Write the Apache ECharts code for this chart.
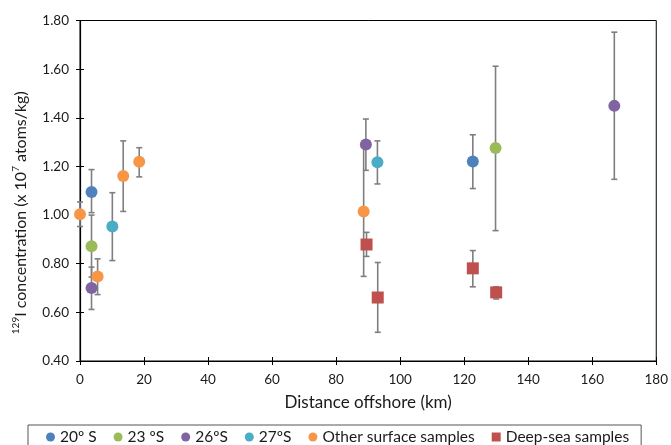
<!DOCTYPE html>
<html>
<head>
<meta charset="utf-8">
<script src="https://cdn.jsdelivr.net/npm/echarts@6/dist/echarts.min.js"></script>
<style>
html,body{margin:0;padding:0;background:#fff;}
#c{width:671px;height:445px;}
</style>
</head>
<body>
<div id="c"></div>
<script>
// Each point: [distance km, value, error low, error high]
const pts20S = [[3.6, 1.095, 1.01, 1.187], [122.7, 1.22, 1.109, 1.33]];
const pts23S = [[3.6, 0.872, 0.745, 1.00], [129.8, 1.276, 0.936, 1.612]];
const pts26S = [[3.6, 0.70, 0.612, 0.786], [89.3, 1.29, 1.184, 1.395], [166.9, 1.449, 1.147, 1.752]];
const pts27S = [[10.1, 0.953, 0.813, 1.092], [92.9, 1.217, 1.128, 1.305]];
const ptsOther = [[0, 1.003, 0.953, 1.054], [5.5, 0.747, 0.673, 0.82], [13.5, 1.161, 1.015, 1.305], [18.5, 1.219, 1.157, 1.277], [88.6, 1.015, 0.748, 1.28]];
const ptsDeep = [[89.5, 0.879, 0.83, 0.929], [93.0, 0.661, 0.518, 0.805], [122.7, 0.781, 0.705, 0.854], [130.0, 0.682, 0.655, 0.705]];

const seriesNames = ['20º S', '23 ºS', '26ºS', '27ºS', 'Other surface samples', 'Deep-sea samples'];
const seriesPts = [pts20S, pts23S, pts26S, pts27S, ptsOther, ptsDeep];
const seriesColors = ['#4F81BD', '#9BBB59', '#8064A2', '#4BACC6', '#F79646', '#C0504D'];
const seriesSymbols = ['circle', 'circle', 'circle', 'circle', 'circle', 'rect'];

const xTicks = [0, 20, 40, 60, 80, 100, 120, 140, 160, 180];
const yTicks = [0.4, 0.6, 0.8, 1.0, 1.2, 1.4, 1.6, 1.8];

const FONT = 'Lato, "Open Sans", sans-serif';
const TXT = '#1a1a1a';

const chart = echarts.init(document.getElementById('c'));

function errorRender(params, api) {
  const x = api.value(0);
  const lo = api.coord([x, api.value(2)]);
  const hi = api.coord([x, api.value(3)]);
  const cap = 3;
  const style = { stroke: '#7f7f7f', lineWidth: 1.6 };
  return {
    type: 'group',
    children: [
      { type: 'line', shape: { x1: lo[0], y1: lo[1], x2: hi[0], y2: hi[1] }, style: style },
      { type: 'line', shape: { x1: lo[0] - cap, y1: lo[1], x2: lo[0] + cap, y2: lo[1] }, style: style },
      { type: 'line', shape: { x1: hi[0] - cap, y1: hi[1], x2: hi[0] + cap, y2: hi[1] }, style: style }
    ]
  };
}

const series = [];
seriesPts.forEach(function (pts, i) {
  series.push({
    name: seriesNames[i] + ' err',
    type: 'custom',
    renderItem: errorRender,
    data: pts,
    encode: { x: 0, y: [2, 3] },
    z: 1,
    silent: true
  });
});
seriesPts.forEach(function (pts, i) {
  series.push({
    name: seriesNames[i],
    type: 'scatter',
    data: pts.map(function (p) { return [p[0], p[1]]; }),
    symbol: seriesSymbols[i],
    symbolSize: 12,
    itemStyle: { color: seriesColors[i], opacity: 1 },
    z: 3
  });
});

function xLabel(v) { return xTicks.indexOf(v) >= 0 ? String(v) : ''; }
function yLabel(v) {
  const t = yTicks.find(function (k) { return Math.abs(k - v) < 1e-6; });
  return t === undefined ? '' : t.toFixed(2);
}

chart.setOption({
  animation: false,
  textStyle: { fontFamily: FONT },
  grid: {
    left: 80, top: 20.5, right: 12.5, bottom: 84,
    show: true, borderColor: '#000', borderWidth: 1, backgroundColor: 'transparent'
  },
  legend: {
    data: seriesNames.map(function (n, i) {
      return { name: n, icon: seriesSymbols[i] === 'rect' ? 'rect' : 'circle' };
    }),
    left: 28, top: 425,
    itemWidth: 9, itemHeight: 9, itemGap: 17,
    padding: [4, 12, 6, 18],
    borderColor: '#555', borderWidth: 1,
    textStyle: { fontFamily: FONT, fontSize: 15.5, color: TXT }
  },
  xAxis: [{
    type: 'value', min: 0, max: 180, interval: 20,
    name: 'Distance offshore (km)', nameLocation: 'middle', nameGap: 33,
    nameTextStyle: { fontFamily: FONT, fontSize: 17, color: TXT },
    axisLine: { onZero: false, lineStyle: { color: '#000', width: 1.2 } },
    axisTick: { show: true, inside: false, length: 4, lineStyle: { color: '#000' } },
    axisLabel: { fontFamily: FONT, fontSize: 13.5, color: TXT, margin: 12, formatter: xLabel },
    splitLine: { show: false }
  }, {
    type: 'value', min: 0, max: 180, interval: 20, position: 'bottom',
    axisLine: { show: false, onZero: false },
    axisTick: { show: true, inside: true, length: 4, lineStyle: { color: '#000' } },
    axisLabel: { show: false }, splitLine: { show: false }
  }],
  yAxis: [{
    type: 'value', min: 0.4, max: 1.8, interval: 0.2,
    name: '{sup|129}I concentration (x 10{sup|7} atoms/kg)',
    nameLocation: 'middle', nameGap: 50, nameRotate: 90,
    nameTextStyle: { fontFamily: FONT, fontSize: 16, color: TXT, lineHeight: 19, padding: [0, 44, 0, 0],
      rich: { sup: { fontFamily: FONT, fontSize: 10, color: TXT, verticalAlign: 'top', lineHeight: 19, padding: [0, 0, 6, 0] } } },
    axisLine: { onZero: false, lineStyle: { color: '#000', width: 1.2 } },
    axisTick: { show: true, inside: false, length: 4, lineStyle: { color: '#000' } },
    axisLabel: { fontFamily: FONT, fontSize: 13.5, color: TXT, margin: 11, formatter: yLabel },
    splitLine: { show: false }
  }, {
    type: 'value', min: 0.4, max: 1.8, interval: 0.2, position: 'left',
    axisLine: { show: false, onZero: false },
    axisTick: { show: true, inside: true, length: 4, lineStyle: { color: '#000' } },
    axisLabel: { show: false }, splitLine: { show: false }
  }],
  series: series
});
</script>
</body>
</html>
